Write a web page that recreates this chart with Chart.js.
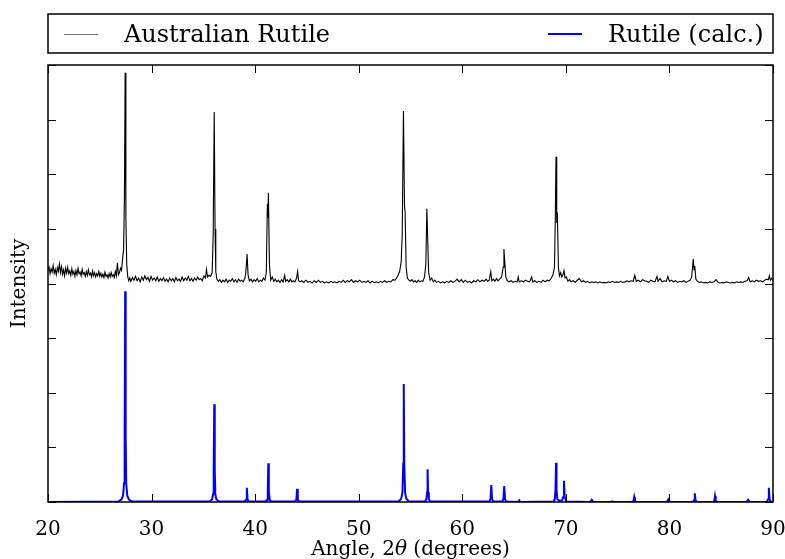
<!DOCTYPE html>
<html>
<head>
<meta charset="utf-8">
<script src="https://cdn.jsdelivr.net/npm/chart.js@4.4.1/dist/chart.umd.min.js"></script>
<style>
  body { margin: 0; background: #fff; }
  #wrap { width: 785px; height: 559px; position: relative; }
</style>
</head>
<body>
<div id="wrap"><canvas id="xrd"></canvas></div>
<script>
// measured pattern (offset up by 4 units), [angle, intensity]
var measured = [
  [20.0,4.24],[20.1,4.30],[20.2,4.18],[20.3,4.27],[20.4,4.21],[20.5,4.33],[20.6,4.19],[20.7,4.26],[20.8,4.16],[20.9,4.29],
  [21.0,4.22],[21.1,4.36],[21.2,4.20],[21.3,4.31],[21.4,4.17],[21.5,4.25],[21.6,4.14],[21.7,4.28],[21.8,4.19],[21.9,4.30],
  [22.0,4.18],[22.1,4.23],[22.2,4.15],[22.3,4.27],[22.4,4.17],[22.5,4.22],[22.6,4.13],[22.7,4.24],[22.8,4.16],[22.9,4.28],
  [23.0,4.18],[23.1,4.21],[23.2,4.14],[23.3,4.26],[23.4,4.17],[23.5,4.20],[23.6,4.13],[23.7,4.22],[23.8,4.15],[23.9,4.25],
  [24.0,4.16],[24.1,4.19],[24.2,4.12],[24.3,4.23],[24.4,4.14],[24.5,4.20],[24.6,4.12],[24.7,4.18],[24.8,4.14],[24.9,4.22],
  [25.0,4.13],[25.1,4.19],[25.2,4.12],[25.3,4.17],[25.4,4.11],[25.5,4.21],[25.6,4.13],[25.7,4.16],[25.8,4.10],[25.9,4.18],
  [26.0,4.12],[26.1,4.20],[26.2,4.13],[26.3,4.16],[26.4,4.11],[26.5,4.22],[26.6,4.14],[26.7,4.38],[26.8,4.16],[26.9,4.20],
  [27.0,4.28],[27.1,4.24],[27.2,4.45],[27.3,4.62],[27.38,5.6],[27.45,7.86],[27.52,5.2],[27.6,4.35],[27.7,4.12],[27.8,4.05],
  [27.9,4.10],[28.0,4.04],[28.15,4.11],[28.3,4.06],[28.45,4.13],[28.6,4.05],[28.75,4.10],[28.9,4.03],[29.05,4.12],[29.2,4.06],
  [29.35,4.14],[29.5,4.07],[29.65,4.11],[29.8,4.04],[29.95,4.13],[30.1,4.06],[30.25,4.10],[30.4,4.05],[30.55,4.12],[30.7,4.04],
  [30.85,4.09],[31.0,4.05],[31.15,4.11],[31.3,4.04],[31.45,4.08],[31.6,4.03],[31.75,4.10],[31.9,4.05],[32.05,4.09],[32.2,4.03],
  [32.35,4.11],[32.5,4.05],[32.65,4.08],[32.8,4.04],[32.95,4.12],[33.1,4.05],[33.25,4.10],[33.4,4.06],[33.55,4.13],[33.7,4.05],
  [33.85,4.09],[34.0,4.04],[34.15,4.10],[34.3,4.06],[34.45,4.12],[34.6,4.07],[34.75,4.09],[34.9,4.05],[35.05,4.14],[35.2,4.10],
  [35.3,4.26],[35.4,4.12],[35.55,4.15],[35.7,4.13],[35.85,4.2],[35.95,4.9],[36.05,7.14],[36.13,5.0],[36.2,4.22],[36.3,4.08],
  [36.45,4.04],[36.6,4.07],[36.75,4.02],[36.9,4.06],[37.05,4.03],[37.2,4.08],[37.35,4.02],[37.5,4.06],[37.65,4.04],[37.8,4.09],
  [37.95,4.03],[38.1,4.07],[38.25,4.02],[38.4,4.08],[38.55,4.04],[38.7,4.06],[38.85,4.03],[39.0,4.09],[39.1,4.2],[39.22,4.54],
  [39.32,4.15],[39.45,4.05],[39.6,4.08],[39.75,4.03],[39.9,4.07],[40.05,4.04],[40.2,4.09],[40.35,4.03],[40.5,4.06],[40.65,4.04],
  [40.8,4.1],[40.95,4.06],[41.08,4.2],[41.18,5.45],[41.22,5.2],[41.28,5.66],[41.38,4.35],[41.5,4.06],[41.65,4.12],[41.8,4.04],
  [41.95,4.08],[42.1,4.03],[42.25,4.06],[42.4,4.02],[42.55,4.07],[42.7,4.03],[42.85,4.15],[42.95,4.04],[43.1,4.07],[43.25,4.03],
  [43.4,4.08],[43.55,4.03],[43.7,4.05],[43.85,4.03],[44.0,4.1],[44.1,4.22],[44.2,4.05],[44.35,4.03],[44.5,4.05],[44.7,4.02],
  [44.9,4.06],[45.1,4.02],[45.3,4.04],[45.5,4.01],[45.7,4.05],[45.9,4.02],[46.1,4.06],[46.3,4.02],[46.5,4.04],[46.7,4.01],
  [46.9,4.03],[47.1,4.01],[47.3,4.04],[47.5,4.02],[47.7,4.03],[47.9,4.01],[48.1,4.04],[48.3,4.02],[48.5,4.06],[48.7,4.02],
  [48.9,4.05],[49.1,4.03],[49.3,4.07],[49.5,4.02],[49.7,4.05],[49.9,4.03],[50.1,4.06],[50.3,4.02],[50.5,4.04],[50.7,4.02],
  [50.9,4.05],[51.1,4.01],[51.3,4.04],[51.5,4.02],[51.7,4.03],[51.9,4.01],[52.1,4.04],[52.3,4.02],[52.5,4.05],[52.7,4.02],
  [52.9,4.04],[53.1,4.03],[53.3,4.07],[53.5,4.06],[53.65,4.1],[53.8,4.15],[53.95,4.22],[54.1,4.4],[54.2,4.9],[54.32,7.16],
  [54.42,5.42],[54.48,5.3],[54.58,4.3],[54.7,4.1],[54.85,4.06],[55.0,4.04],[55.15,4.07],[55.3,4.03],[55.45,4.05],[55.6,4.02],
  [55.75,4.06],[55.9,4.03],[56.05,4.05],[56.2,4.04],[56.35,4.12],[56.48,4.35],[56.58,5.37],[56.66,4.83],[56.75,4.2],[56.9,4.06],
  [57.05,4.1],[57.2,4.03],[57.35,4.06],[57.5,4.02],[57.7,4.04],[57.9,4.01],[58.1,4.03],[58.3,4.01],[58.5,4.04],[58.7,4.02],
  [58.9,4.05],[59.1,4.02],[59.3,4.04],[59.5,4.08],[59.7,4.03],[59.9,4.07],[60.1,4.02],[60.3,4.06],[60.5,4.02],[60.7,4.04],
  [60.9,4.01],[61.1,4.05],[61.3,4.03],[61.5,4.07],[61.7,4.03],[61.9,4.06],[62.1,4.04],[62.3,4.08],[62.45,4.04],[62.6,4.06],
  [62.75,4.22],[62.85,4.05],[63.0,4.08],[63.15,4.04],[63.3,4.09],[63.45,4.05],[63.6,4.08],[63.8,4.12],[63.95,4.3],[64.02,4.63],
  [64.1,4.4],[64.2,4.12],[64.35,4.05],[64.5,4.03],[64.7,4.05],[64.9,4.02],[65.1,4.04],[65.3,4.03],[65.4,4.12],[65.5,4.03],
  [65.7,4.05],[65.9,4.03],[66.1,4.06],[66.3,4.04],[66.5,4.03],[66.7,4.12],[66.8,4.03],[67.0,4.05],[67.2,4.02],[67.4,4.04],
  [67.6,4.02],[67.8,4.06],[68.0,4.03],[68.2,4.06],[68.4,4.05],[68.6,4.1],[68.75,4.16],[68.9,4.3],[68.98,5.2],[69.05,6.32],
  [69.12,5.11],[69.18,5.3],[69.28,4.3],[69.38,4.14],[69.5,4.2],[69.6,4.12],[69.72,4.16],[69.82,4.24],[69.92,4.1],[70.05,4.12],
  [70.2,4.04],[70.35,4.07],[70.5,4.03],[70.7,4.05],[70.9,4.02],[71.1,4.06],[71.3,4.09],[71.5,4.03],[71.7,4.05],[71.9,4.02],
  [72.1,4.04],[72.3,4.01],[72.5,4.03],[72.7,4.02],[72.9,4.03],[73.1,4.01],[73.3,4.03],[73.5,4.01],[73.7,4.02],[73.9,4.01],
  [74.1,4.03],[74.3,4.02],[74.5,4.04],[74.7,4.02],[74.9,4.03],[75.1,4.02],[75.3,4.04],[75.5,4.02],[75.7,4.03],[75.9,4.05],
  [76.1,4.03],[76.3,4.05],[76.5,4.04],[76.65,4.15],[76.8,4.04],[77.0,4.06],[77.2,4.03],[77.4,4.07],[77.6,4.05],[77.8,4.04],
  [78.0,4.02],[78.2,4.06],[78.4,4.04],[78.6,4.03],[78.8,4.13],[78.9,4.04],[79.1,4.09],[79.3,4.03],[79.5,4.05],[79.7,4.04],
  [79.85,4.13],[80.0,4.04],[80.2,4.06],[80.4,4.03],[80.6,4.05],[80.8,4.02],[81.0,4.04],[81.2,4.03],[81.4,4.05],[81.6,4.02],
  [81.8,4.04],[82.0,4.06],[82.15,4.12],[82.3,4.45],[82.38,4.25],[82.45,4.32],[82.55,4.08],[82.7,4.04],[82.9,4.02],[83.1,4.03],
  [83.3,4.01],[83.5,4.02],[83.7,4.01],[83.9,4.03],[84.1,4.02],[84.3,4.03],[84.5,4.07],[84.7,4.02],[84.9,4.01],[85.1,4.02],
  [85.3,4.01],[85.5,4.03],[85.7,4.02],[85.9,4.01],[86.1,4.02],[86.3,4.01],[86.5,4.03],[86.7,4.02],[86.9,4.03],[87.1,4.02],
  [87.3,4.04],[87.5,4.05],[87.65,4.11],[87.8,4.03],[88.0,4.05],[88.2,4.03],[88.4,4.06],[88.6,4.04],[88.8,4.05],[89.0,4.03],
  [89.2,4.06],[89.4,4.08],[89.55,4.07],[89.65,4.14],[89.75,4.06],[89.9,4.1],[90.0,4.05]
];

// calculated rutile pattern, [angle, intensity]
var calculated = [
  [20.0,0.0],[26.8,0.01],[27.1,0.05],[27.25,0.12],[27.35,0.35],[27.4,1.2],[27.45,3.86],[27.5,1.2],[27.55,0.35],[27.65,0.12],[27.8,0.05],[28.1,0.01],
  [35.6,0.01],[35.85,0.05],[35.95,0.15],[36.0,0.6],[36.05,1.79],[36.1,0.6],[36.15,0.15],[36.25,0.05],[36.5,0.01],
  [39.0,0.01],[39.13,0.04],[39.2,0.26],[39.27,0.04],[39.4,0.01],
  [41.0,0.01],[41.15,0.04],[41.22,0.2],[41.27,0.71],[41.32,0.2],[41.4,0.04],[41.55,0.01],
  [43.85,0.01],[43.98,0.04],[44.05,0.24],[44.12,0.04],[44.25,0.01],
  [53.85,0.01],[54.1,0.06],[54.22,0.17],[54.3,0.7],[54.35,2.16],[54.4,0.7],[54.48,0.17],[54.6,0.06],[54.85,0.01],
  [56.4,0.01],[56.53,0.05],[56.6,0.18],[56.65,0.6],[56.7,0.18],[56.77,0.05],[56.9,0.01],
  [62.6,0.01],[62.72,0.05],[62.8,0.31],[62.88,0.05],[63.0,0.01],
  [63.85,0.01],[63.97,0.05],[64.05,0.29],[64.13,0.05],[64.25,0.01],
  [65.4,0.0],[65.5,0.03],[65.6,0.0],
  [68.8,0.01],[68.93,0.05],[69.0,0.22],[69.05,0.72],[69.1,0.22],[69.18,0.05],[69.4,0.02],
  [69.62,0.03],[69.75,0.09],[69.82,0.39],[69.89,0.09],[70.05,0.01],
  [72.35,0.0],[72.5,0.04],[72.65,0.0],
  [74.4,0.0],[74.5,0.01],[74.6,0.0],
  [76.4,0.0],[76.53,0.02],[76.6,0.09],[76.67,0.02],[76.8,0.0],
  [79.75,0.0],[79.9,0.05],[80.05,0.0],
  [82.25,0.0],[82.38,0.03],[82.45,0.16],[82.52,0.03],[82.65,0.0],
  [84.2,0.0],[84.33,0.02],[84.4,0.11],[84.47,0.02],[84.6,0.0],
  [87.45,0.0],[87.6,0.04],[87.75,0.0],
  [89.4,0.0],[89.53,0.05],[89.6,0.26],[89.67,0.05],[89.8,0.0],[90.0,0.0]
];

var seriesNames = ['Australian Rutile', 'Rutile (calc.)'];
var seriesColors = ['#000000', '#0000ff'];
var xTitle = ['Angle, ', '2', '\u03b8', ' (degrees)'];
var yTitle = 'Intensity';

var serif = "'DejaVu Serif', serif";
Chart.defaults.font.family = serif;

var decor = {
  id: 'decor',
  afterDraw: function (chart) {
    var ctx = chart.ctx, a = chart.chartArea;
    var xs = chart.scales.x, ys = chart.scales.y;
    ctx.save();
    ctx.strokeStyle = '#000';
    ctx.lineWidth = 1;
    ctx.beginPath();
    xs.ticks.forEach(function (t) {
      var p = Math.round(xs.getPixelForValue(t.value)) + 0.5;
      ctx.moveTo(p, a.bottom); ctx.lineTo(p, a.bottom - 8);
      ctx.moveTo(p, a.top); ctx.lineTo(p, a.top + 8);
    });
    ys.ticks.forEach(function (t) {
      var p = Math.round(ys.getPixelForValue(t.value)) + 0.5;
      ctx.moveTo(a.left, p); ctx.lineTo(a.left + 8, p);
      ctx.moveTo(a.right, p); ctx.lineTo(a.right - 8, p);
    });
    ctx.stroke();

    // frame
    ctx.lineWidth = 1.5;
    ctx.strokeRect(a.left, a.top, a.right - a.left, a.bottom - a.top);

    // legend box
    ctx.strokeRect(48, 14, 725, 39);
    ctx.lineWidth = 1;
    ctx.strokeStyle = '#777';
    ctx.beginPath(); ctx.moveTo(64, 34.5); ctx.lineTo(98, 34.5); ctx.stroke();
    ctx.lineWidth = 2;
    ctx.strokeStyle = seriesColors[1];
    ctx.beginPath(); ctx.moveTo(548, 34); ctx.lineTo(582, 34); ctx.stroke();
    ctx.fillStyle = '#000';
    ctx.font = '24px ' + serif;
    ctx.textBaseline = 'alphabetic';
    ctx.textAlign = 'left';
    ctx.fillText(seriesNames[0], 124, 42);
    ctx.fillText(seriesNames[1], 608, 42);

    // y title
    ctx.font = '20px ' + serif;
    ctx.save();
    ctx.translate(25, (a.top + a.bottom) / 2);
    ctx.rotate(-Math.PI / 2);
    ctx.textAlign = 'center';
    ctx.fillText(yTitle, 0, 0);
    ctx.restore();

    // x title with italic theta
    var fonts = ['20px ' + serif, '20px ' + serif, 'italic 20px ' + serif, '20px ' + serif];
    var widths = xTitle.map(function (s, i) { ctx.font = fonts[i]; return ctx.measureText(s).width; });
    var total = widths.reduce(function (p, c) { return p + c; }, 0);
    var x0 = (a.left + a.right) / 2 - total / 2;
    xTitle.forEach(function (s, i) {
      ctx.font = fonts[i];
      ctx.fillText(s, x0, 555);
      x0 += widths[i];
    });
    ctx.restore();
  }
};

new Chart(document.getElementById('xrd'), {
  type: 'line',
  data: {
    datasets: [
      { label: seriesNames[0], data: measured.map(function (p) { return { x: p[0], y: p[1] }; }),
        borderColor: seriesColors[0], borderWidth: 1.1, pointRadius: 0, tension: 0, fill: false },
      { label: seriesNames[1], data: calculated.map(function (p) { return { x: p[0], y: p[1] }; }),
        borderColor: seriesColors[1], borderWidth: 2, pointRadius: 0, tension: 0, fill: false }
    ]
  },
  options: {
    responsive: true,
    maintainAspectRatio: false,
    animation: false,
    layout: { padding: { left: 48, top: 65, right: 0, bottom: 0 } },
    plugins: { legend: { display: false }, tooltip: { enabled: false } },
    scales: {
      x: {
        type: 'linear', min: 20, max: 90,
        grid: { display: false }, border: { display: false },
        ticks: { stepSize: 10, color: '#000', padding: 8, maxRotation: 0, font: { size: 20 } },
        afterFit: function (s) { s.height = 57; s.paddingRight = 12; }
      },
      y: {
        min: 0, max: 8,
        grid: { display: false }, border: { display: false },
        ticks: { stepSize: 1, display: false },
        afterFit: function (s) { s.width = 0; }
      }
    }
  },
  plugins: [decor]
});
</script>
</body>
</html>
